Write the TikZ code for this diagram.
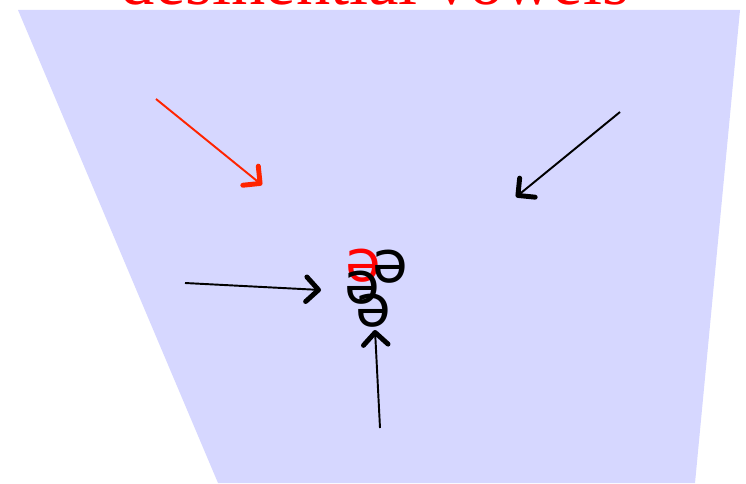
\documentclass[tikz,border=0pt]{standalone}
\usepackage{fontspec}
\usepackage{tikz}
\usetikzlibrary{arrows.meta, positioning}
\newfontfamily\ipafont{DejaVu Sans}
\newfontfamily\titlefont{Liberation Serif}
\definecolor{chartfill}{RGB}{214, 215, 255}
\definecolor{pointred}{RGB}{255, 36, 0}

\begin{document}
\begin{tikzpicture}[
        x=0.02cm, y=-0.02cm,
        vowel/.style={inner sep=0pt, font=\ipafont\fontsize{33}{33}\selectfont},
        pointer/.style={line width=1.1pt, -{Straight Barb[length=7pt, width=14pt, line width=2.8pt, round]}}
    ]
        \useasboundingbox (0,0) rectangle (746,483);
        \fill[chartfill] (18,10) -- (740,10) -- (695,483) -- (218,483) -- cycle;
        \node[anchor=base, text=red, font=\titlefont\fontsize{39}{39}\selectfont] (title) at (375,5) {desinential vowels};
        \node[vowel, text=red] (v1) at (363,266) {ə};
        \node[vowel] (v2) at (390,267) {ə};
        \node[vowel] (v3) at (362,288) {ə};
        \node[vowel] (v4) at (373,311) {ə};
        \coordinate (a1) at (156,99);
        \coordinate (a2) at (262,185);
        \coordinate (b1) at (620,112);
        \coordinate (b2) at (516,197);
        \coordinate (c1) at (185,283);
        \coordinate (c2) at (321,290);
        \coordinate (d1) at (380,428);
        \coordinate (d2) at (375,330);
        \draw[pointer, pointred] (a1) -- (a2);
        \draw[pointer] (b1) -- (b2);
        \draw[pointer] (c1) -- (c2);
        \draw[pointer] (d1) -- (d2);
    \end{tikzpicture}
\end{document}
